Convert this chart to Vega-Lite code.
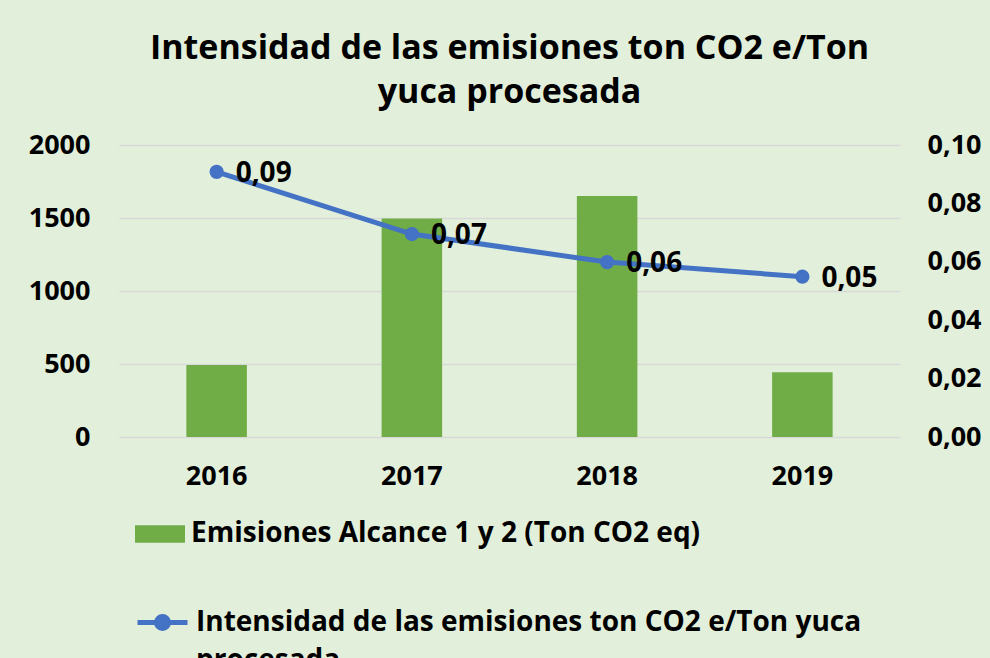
{
  "$schema": "https://vega.github.io/schema/vega-lite/v6.json",
  "width": 781,
  "height": 292,
  "autosize": {"type": "none"},
  "padding": {"left": 119, "top": 145, "right": 90, "bottom": 221},
  "background": "#e2efda",
  "config": {
    "view": {"stroke": null},
    "font": "Open Sans",
    "locale": {"number": {"decimal": ",", "thousands": ".", "grouping": [3], "currency": ["", ""]}},
    "axis": {
      "labelFont": "Open Sans",
      "labelFontWeight": "bold",
      "labelFontSize": 27,
      "labelColor": "#000000",
      "ticks": false,
      "domain": false,
      "title": null
    },
    "legend": {
      "labelFont": "Open Sans",
      "labelFontWeight": "bold",
      "labelFontSize": 28,
      "labelColor": "#000000",
      "labelLimit": 900,
      "title": null
    }
  },
  "title": {
    "text": ["Intensidad de las emisiones ton CO2 e/Ton", "yuca procesada"],
    "font": "Open Sans",
    "fontSize": 34,
    "fontWeight": "bold",
    "color": "#000000",
    "anchor": "middle",
    "lineHeight": 44,
    "offset": 21
  },
  "data": {
    "values": [
      {"anio": "2016", "emisiones": 493, "intensidad": 0.0908, "serieBar": "Emisiones Alcance 1 y 2 (Ton CO2 eq)", "serieLine": "Intensidad de las emisiones ton CO2 e/Ton yuca procesada"},
      {"anio": "2017", "emisiones": 1497, "intensidad": 0.0695, "serieBar": "Emisiones Alcance 1 y 2 (Ton CO2 eq)", "serieLine": "Intensidad de las emisiones ton CO2 e/Ton yuca procesada"},
      {"anio": "2018", "emisiones": 1651, "intensidad": 0.0599, "serieBar": "Emisiones Alcance 1 y 2 (Ton CO2 eq)", "serieLine": "Intensidad de las emisiones ton CO2 e/Ton yuca procesada"},
      {"anio": "2019", "emisiones": 443, "intensidad": 0.0549, "serieBar": "Emisiones Alcance 1 y 2 (Ton CO2 eq)", "serieLine": "Intensidad de las emisiones ton CO2 e/Ton yuca procesada"}
    ]
  },
  "encoding": {
    "x": {
      "field": "anio",
      "type": "nominal",
      "scale": {"paddingInner": 0.69, "paddingOuter": 0.345},
      "axis": {"title": null, "labelAngle": 0, "labelPadding": 26, "grid": false}
    }
  },
  "layer": [
    {
      "mark": {"type": "bar", "color": "#70ad47"},
      "encoding": {
        "y": {
          "field": "emisiones",
          "type": "quantitative",
          "scale": {"domain": [0, 2000]},
          "axis": {
            "orient": "left",
            "values": [0, 500, 1000, 1500, 2000],
            "format": "d",
            "grid": true,
            "gridColor": "#d9d9d9",
            "gridWidth": 1.5,
            "labelPadding": 29
          }
        },
        "fill": {
          "field": "serieBar",
          "type": "nominal",
          "scale": {"range": ["#70ad47"]},
          "legend": {
            "orient": "none",
            "legendX": 16,
            "legendY": 364,
            "symbolType": "M-1,-0.35H1V0.35H-1Z",
            "symbolSize": 2500,
            "symbolStrokeWidth": 0,
            "labelOffset": 6
          }
        }
      }
    },
    {
      "encoding": {
        "y": {
          "field": "intensidad",
          "type": "quantitative",
          "scale": {"domain": [0, 0.1]},
          "axis": {
            "orient": "right",
            "values": [0, 0.02, 0.04, 0.06, 0.08, 0.1],
            "format": ".2f",
            "grid": false,
            "labelPadding": 27
          }
        }
      },
      "layer": [
        {
          "mark": {
            "type": "line",
            "strokeWidth": 5,
            "point": {"filled": true, "size": 150, "color": "#4472c4"}
          },
          "encoding": {
            "stroke": {
              "field": "serieLine",
              "type": "nominal",
              "scale": {"range": ["#4472c4"]},
              "legend": {
                "orient": "none",
                "legendX": 16,
                "legendY": 450,
                "symbolType": "M-1,0H1M0,-0.24A0.24,0.24 0 1,1 0,0.24A0.24,0.24 0 1,1 0,-0.24Z",
                "symbolSize": 2500,
                "symbolStrokeWidth": 5,
                "symbolFillColor": "#4472c4",
                "labelOffset": 6,
                "labelExpr": "['Intensidad de las emisiones ton CO2 e/Ton yuca', 'procesada']",
                "encode": {"labels": {"update": {"lineHeight": {"value": 38}}}}
              }
            }
          }
        },
        {
          "mark": {
            "type": "text",
            "align": "left",
            "baseline": "middle",
            "dx": 19,
            "dy": 2,
            "font": "Open Sans",
            "fontSize": 28,
            "fontWeight": "bold",
            "color": "#000000"
          },
          "encoding": {
            "text": {"field": "intensidad", "type": "quantitative", "format": ".2f"}
          }
        }
      ]
    }
  ],
  "resolve": {"scale": {"y": "independent"}}
}
